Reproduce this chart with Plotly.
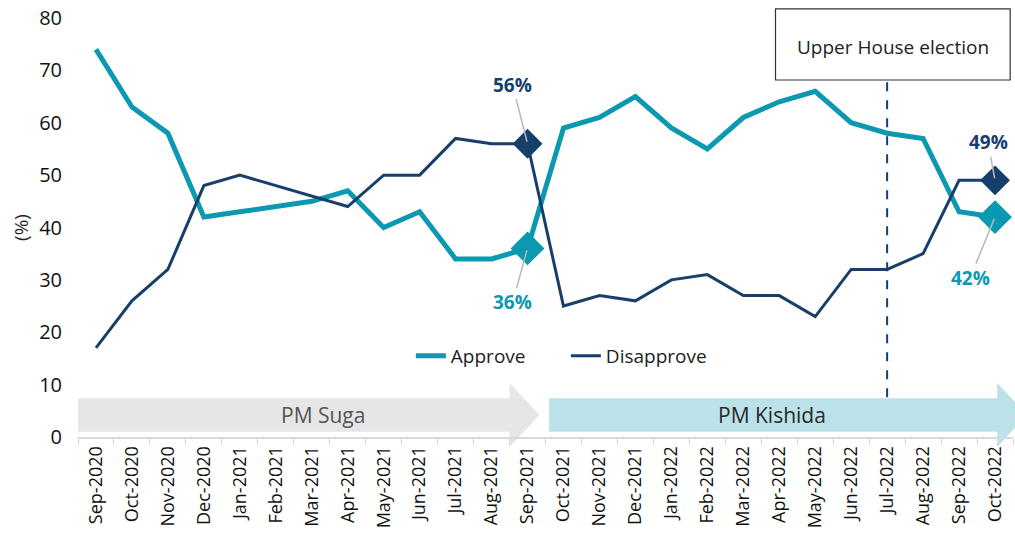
import plotly.graph_objects as go

# Data
months = ["Sep-2020", "Oct-2020", "Nov-2020", "Dec-2020", "Jan-2021", "Feb-2021",
          "Mar-2021", "Apr-2021", "May-2021", "Jun-2021", "Jul-2021", "Aug-2021",
          "Sep-2021", "Oct-2021", "Nov-2021", "Dec-2021", "Jan-2022", "Feb-2022",
          "Mar-2022", "Apr-2022", "May-2022", "Jun-2022", "Jul-2022", "Aug-2022",
          "Sep-2022", "Oct-2022"]
approve = [74, 63, 58, 42, 43, 44, 45, 47, 40, 43, 34, 34, 36,
           59, 61, 65, 59, 55, 61, 64, 66, 60, 58, 57, 43, 42]
disapprove = [17, 26, 32, 48, 50, 48, 46, 44, 50, 50, 57, 56, 56,
              25, 27, 26, 30, 31, 27, 27, 23, 32, 32, 35, 49, 49]
highlight = ["Sep-2021", "Oct-2022"]
election_month = "Jul-2022"

TEAL = "#0A99B0"
NAVY = "#173F6B"
FONT = "Open Sans, Noto Sans, sans-serif"

n = len(months)


def px_x(i):
    # category index -> paper x
    return (i + 0.5) / n


def py(v):
    # data value -> paper y
    return v / 80.0


fig = go.Figure()

fig.add_trace(go.Scatter(x=months, y=approve, name="Approve", mode="lines",
                         line=dict(color=TEAL, width=5)))
fig.add_trace(go.Scatter(x=months, y=disapprove, name="Disapprove", mode="lines",
                         line=dict(color=NAVY, width=3)))

# diamond markers on the highlighted months
hi_idx = [months.index(m) for m in highlight]
fig.add_trace(go.Scatter(x=highlight, y=[approve[i] for i in hi_idx], mode="markers",
                         marker=dict(symbol="diamond", size=26, color=TEAL),
                         showlegend=False, hoverinfo="skip"))
fig.add_trace(go.Scatter(x=highlight, y=[disapprove[i] for i in hi_idx], mode="markers",
                         marker=dict(symbol="diamond", size=23, color=NAVY),
                         showlegend=False, hoverinfo="skip"))


# PM arrows under the lines
def arrow_path(x0, x1, tip):
    b0, b1 = py(1.0), py(7.4)
    h0, h1 = py(-1.9), py(10.3)
    mid = (b0 + b1) / 2
    return (f"M {x0},{b0} L {x1},{b0} L {x1},{h0} L {tip},{mid} "
            f"L {x1},{h1} L {x1},{b1} L {x0},{b1} Z")


s = months.index("Sep-2021")
fig.add_shape(type="path", xref="paper", yref="paper", layer="below",
              path=arrow_path(0.0, px_x(s - 0.5), px_x(s + 0.33)),
              fillcolor="rgba(226,226,226,0.85)", line=dict(width=0))
fig.add_shape(type="path", xref="paper", yref="paper", layer="below",
              path=arrow_path(px_x(s + 0.6), px_x(n - 0.94), px_x(n - 0.1)),
              fillcolor="rgba(170,219,228,0.8)", line=dict(width=0))
fig.add_annotation(x=px_x(6.3), y=py(4.2), xref="paper", yref="paper",
                   xanchor="center", yanchor="middle",
                   text="PM Suga", showarrow=False,
                   font=dict(size=21, color="#555555", family=FONT))
fig.add_annotation(x=px_x(18.8), y=py(4.2), xref="paper", yref="paper",
                   xanchor="center", yanchor="middle",
                   text="PM Kishida", showarrow=False,
                   font=dict(size=21, color="#2A2A2A", family=FONT))

# election marker
e = months.index(election_month)
fig.add_shape(type="line", xref="paper", yref="paper",
              x0=px_x(e), x1=px_x(e), y0=py(7.6), y1=0.852,
              line=dict(color=NAVY, width=2, dash="dash"))
fig.add_shape(type="rect", xref="paper", yref="paper",
              x0=0.746, x1=0.997, y0=0.852, y1=1.022,
              fillcolor="white", line=dict(color="#333333", width=1.2))
fig.add_annotation(x=0.872, y=0.93, xref="paper", yref="paper",
                   xanchor="center", yanchor="middle",
                   text="Upper House election", showarrow=False,
                   font=dict(size=19, color="#222222", family=FONT))

# value labels with leader lines
labels = [
    (highlight[0], disapprove[hi_idx[0]], -15, -59, NAVY),
    (highlight[0], approve[hi_idx[0]], -15, 54, TEAL),
    (highlight[1], disapprove[hi_idx[1]], -7, -38, NAVY),
    (highlight[1], approve[hi_idx[1]], -25, 61, TEAL),
]
for m, v, ax, ay, col in labels:
    fig.add_annotation(x=m, y=v, text=f"<b>{v}%</b>", showarrow=True,
                       ax=ax, ay=ay, arrowhead=0, arrowwidth=1.5,
                       arrowcolor="#B8B8B8", standoff=2,
                       font=dict(size=19, color=col, family=FONT))

fig.update_layout(
    width=1015, height=538,
    margin=dict(l=78, r=2, t=18, b=101),
    paper_bgcolor="white", plot_bgcolor="white",
    font=dict(family=FONT, color="#222222"),
    showlegend=True,
    legend=dict(orientation="h", x=0.356, y=py(15.5), xanchor="left", yanchor="middle",
                entrywidth=110, font=dict(size=19, color="#222222"),
                bgcolor="rgba(0,0,0,0)"),
)
fig.update_xaxes(type="category", range=[-0.5, n - 0.5], showgrid=False,
                 showline=True, linecolor="#D9D9D9", linewidth=2,
                 ticks="outside", tickson="boundaries", ticklen=6,
                 tickcolor="#D9D9D9", tickwidth=1,
                 tickangle=-90, tickfont=dict(size=18, color="#111111"))
fig.update_yaxes(range=[0, 80], dtick=10, showgrid=False, zeroline=False,
                 showline=False, ticks="", ticklabelstandoff=15,
                 ticklabeloverflow="allow",
                 tickfont=dict(size=20, color="#111111"),
                 title=dict(text="(%)", font=dict(size=19), standoff=5))

# drop the default body margin so the figure fills the window exactly
fig.write_html("out.html", config={"displayModeBar": False},
               post_script="document.body.style.margin='0';"
                           "document.body.style.overflow='hidden';")
